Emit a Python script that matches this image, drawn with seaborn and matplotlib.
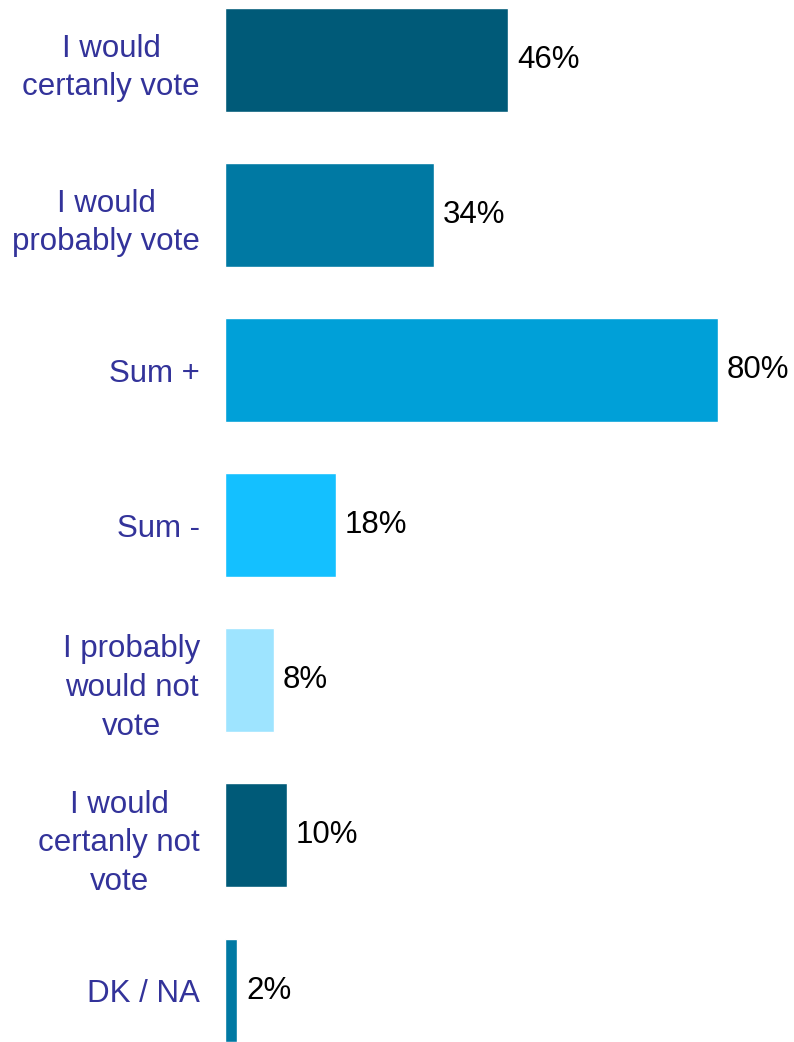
import matplotlib
matplotlib.use("Agg")
import matplotlib.pyplot as plt
import seaborn as sns
import pandas as pd

categories = ["I would\ncertanly vote", "I would\nprobably vote", "Sum +", "Sum -",
              "I probably\nwould not\nvote", "I would\ncertanly not\nvote", "DK / NA"]
values = [46, 34, 80, 18, 8, 10, 2]
colors = ["#005A78", "#0079A3", "#00A0D8", "#14C0FF", "#9EE4FF", "#005A78", "#0079A3"]

sns.set_theme(style="white")
plt.rcParams['font.family'] = ['Liberation Sans', 'DejaVu Sans']

df = pd.DataFrame({"cat": categories, "val": values})

fig = plt.figure(figsize=(7.94, 10.42), dpi=100)
ax = fig.add_axes([225/794, 0, 1 - 225/794, 1])
sns.barplot(data=df, x="val", y="cat", hue="cat", palette=colors, legend=False,
            width=0.67, saturation=1, ax=ax, orient="h")

ax.set_xlim(0, 569/6.16)
ax.set_ylim(6.332, -0.387)
for s in ax.spines.values():
    s.set_visible(False)
ax.set_xticks([])
ax.set_xlabel("")
ax.set_ylabel("")
ax.tick_params(axis="y", length=0, pad=18)
ax.set_yticks(range(len(categories)))
ax.set_yticklabels(categories, fontsize=22.5, color="#33339A", ha="right",
                   multialignment="center", linespacing=1.38)

for i, v in enumerate(values):
    ax.text(v + 1.4, i, f"{v}%", va="center", ha="left", fontsize=22.5, color="black")

fig.savefig("out.png", dpi=100)
